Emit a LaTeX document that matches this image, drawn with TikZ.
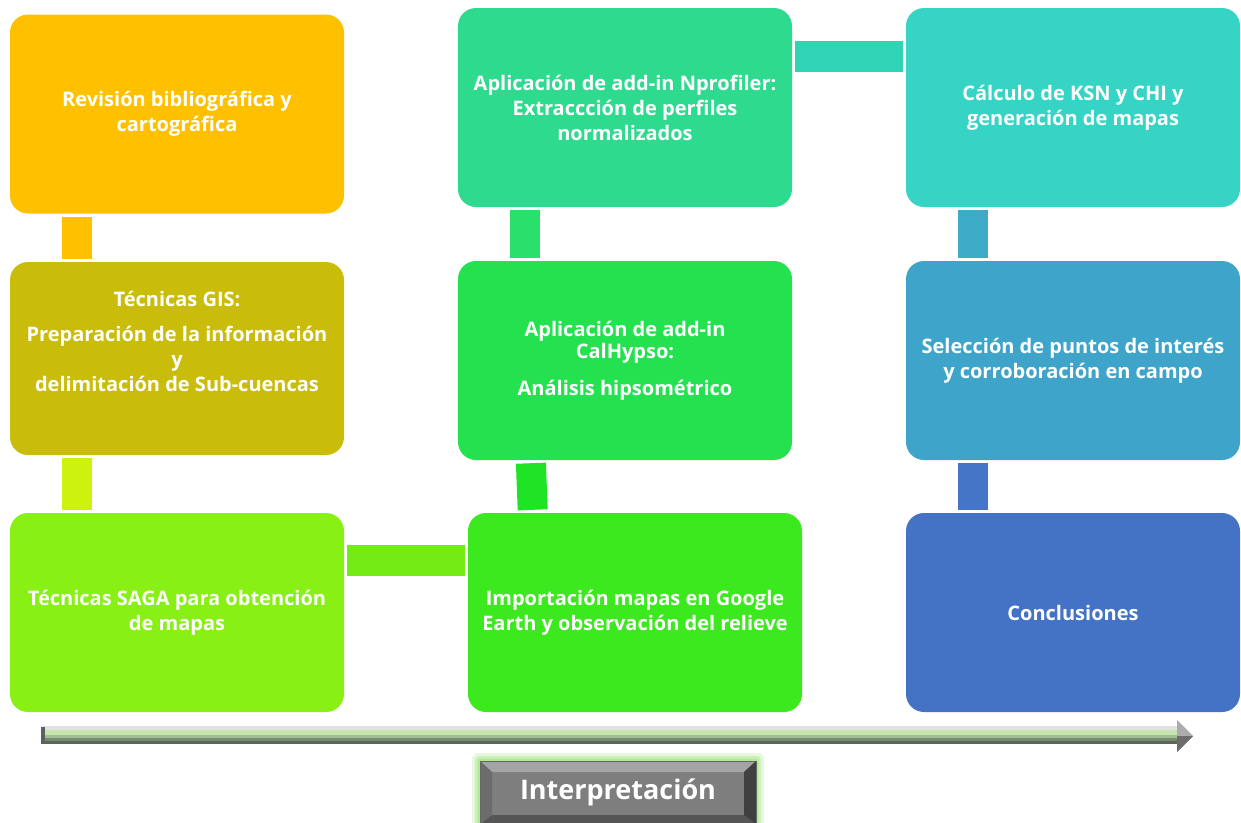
\documentclass[tikz,border=0pt]{standalone}
\usepackage{fontspec}
\setmainfont{Open Sans}
\usetikzlibrary{calc}
\definecolor{cRev}{HTML}{FFC000}
\definecolor{cGis}{HTML}{CABC0B}
\definecolor{cSaga}{HTML}{88F014}
\definecolor{cImp}{HTML}{3CE81E}
\definecolor{cHyp}{HTML}{24E24F}
\definecolor{cNpro}{HTML}{2EDA8E}
\definecolor{cKsn}{HTML}{36D4C4}
\definecolor{cSel}{HTML}{3EA4CA}
\definecolor{cCon}{HTML}{4472C4}
\definecolor{kA}{HTML}{FFC000}
\definecolor{kB}{HTML}{CCF20E}
\definecolor{kC}{HTML}{72EC14}
\definecolor{kD}{HTML}{1FE425}
\definecolor{kE}{HTML}{2BE06A}
\definecolor{kF}{HTML}{30D4B5}
\definecolor{kG}{HTML}{3DAAC8}
\definecolor{kH}{HTML}{4575C6}
\definecolor{glow}{HTML}{B0E894}
\definecolor{sA}{HTML}{E2E2E2}
\definecolor{sB}{HTML}{C6E6B0}
\definecolor{sC}{HTML}{A2BE96}
\definecolor{sD}{HTML}{7A8A72}
\definecolor{sE}{HTML}{5A6656}
\definecolor{bC}{HTML}{7E7E7E}
\definecolor{bT}{HTML}{A4A4A4}
\definecolor{bL}{HTML}{6C6C6C}
\definecolor{bR}{HTML}{404040}
\definecolor{bB}{HTML}{555555}
\begin{document}
\begin{tikzpicture}[x=1pt,y=-1pt,
  stepbox/.style={rounded corners=18pt, minimum width=334pt, minimum height=199pt,
    inner sep=0pt, align=center, text=white,
    font=\fontsize{20}{25}\selectfont\bfseries},
  vbar/.style={line width=30pt, shorten <=3pt, shorten >=3pt},
  hbar/.style={line width=31pt, shorten <=3pt, shorten >=3pt}]
\useasboundingbox (0,0) rectangle (1241,822);

% boxes
\node[stepbox, fill=cRev] (rev) at (177,114) {Revisión bibliográfica y\\cartográfica};
\node[stepbox, fill=cGis, minimum height=193pt] (gis) at (177,358.5)
  {Técnicas GIS:\\[10pt]Preparación de la información\\y\\delimitación de Sub-cuencas\\[10pt]\mbox{}};
\node[stepbox, fill=cSaga] (saga) at (177,612.5) {Técnicas SAGA para obtención\\de mapas};
\node[stepbox, fill=cImp] (imp) at (635,612.5) {Importación mapas en Google\\Earth y observación del relieve};
\node[stepbox, fill=cHyp] (hyp) at (625,360.5) {Aplicación de add-in\\[-3pt]CalHypso:\\[12pt]Análisis hipsométrico};
\node[stepbox, fill=cNpro] (npro) at (625,107.5) {Aplicación de add-in Nprofiler:\\Extraccción de perfiles\\normalizados};
\node[stepbox, fill=cKsn] (ksn) at (1073,107.5) {Cálculo de KSN y CHI y\\generación de mapas};
\node[stepbox, fill=cSel] (sel) at (1073,360.5) {Selección de puntos de interés\\y corroboración en campo};
\node[stepbox, fill=cCon] (con) at (1073,612.5) {Conclusiones};

% connectors
\draw[vbar, kA] ([xshift=67pt]rev.south west) -- ([xshift=67pt]gis.north west);
\draw[vbar, kB] ([xshift=67pt]gis.south west) -- ([xshift=67pt]saga.north west);
\draw[hbar, kC] ([yshift=-48pt]saga.north east) -- ([yshift=-48pt]imp.north west);
\draw[vbar, kD] ([xshift=65pt]imp.north west) -- ([xshift=73pt]hyp.south west);
\draw[vbar, kE] ([xshift=67pt]hyp.north west) -- ([xshift=67pt]npro.south west);
\draw[hbar, kF] ([yshift=-48.5pt]npro.north east) -- ([yshift=-48.5pt]ksn.north west);
\draw[vbar, kG] ([xshift=67pt]ksn.south west) -- ([xshift=67pt]sel.north west);
\draw[vbar, kH] ([xshift=67pt]sel.south west) -- ([xshift=67pt]con.north west);

% timeline arrow (banded shaft)
\fill[sA] (42,726) rectangle (1178,730);
\fill[sB] (42,730) rectangle (1178,735);
\fill[sC] (42,735) rectangle (1178,738);
\fill[sD] (42,738) rectangle (1178,741);
\fill[sE] (42,741) rectangle (1178,744);
\fill[gray!65] (1177,720) -- (1193,736) -- (1177,752) -- cycle;
\fill[gray!85!black] (1177,736) -- (1193,736) -- (1177,752) -- cycle;
\fill[gray!75!black] (41,727) rectangle (45,744);

% Interpretacion button
\coordinate (iw) at (480,761);
\coordinate (ie) at (756,824);
\fill[glow, opacity=0.3, rounded corners=6pt] ($(iw)+(-8,-8)$) rectangle ($(ie)+(8,8)$);
\fill[glow, opacity=0.5, rounded corners=4pt] ($(iw)+(-5,-5)$) rectangle ($(ie)+(5,5)$);
\fill[glow, opacity=0.9, rounded corners=2pt] ($(iw)+(-2.5,-2.5)$) rectangle ($(ie)+(2.5,2.5)$);
\fill[bC] (iw) rectangle (ie);
\fill[bT] (480,761) -- (756,761) -- (744,772) -- (492,772) -- cycle;
\fill[bB] (480,824) -- (756,824) -- (744,815) -- (492,815) -- cycle;
\fill[bL] (480,761) -- (492,772) -- (492,815) -- (480,824) -- cycle;
\fill[bR] (756,761) -- (744,772) -- (744,815) -- (756,824) -- cycle;
\draw[black!60, line width=0.6pt] (iw) rectangle (ie);
\node[text=white, font=\fontsize{27}{30}\selectfont\bfseries] (interp) at (618,792) {Interpretación};
\end{tikzpicture}
\end{document}
